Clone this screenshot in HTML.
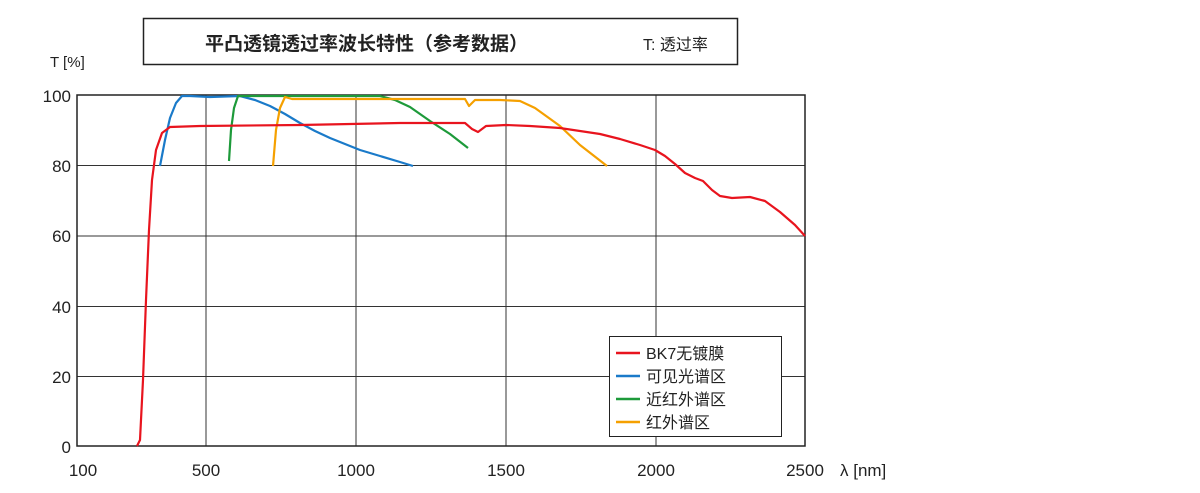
<!DOCTYPE html><html><head><meta charset="utf-8"><style>
body{margin:0;width:1200px;height:488px;background:#fff;overflow:hidden;font-family:"Liberation Sans","Noto Sans CJK SC",sans-serif}
</style></head><body>
<svg width="1200" height="488" xmlns="http://www.w3.org/2000/svg" font-family="Liberation Sans, Noto Sans CJK SC, sans-serif">
<rect x="143.5" y="18.5" width="594" height="46" fill="#fff" stroke="#222" stroke-width="1.5"/>
<text x="205" y="50" font-size="19" font-weight="bold" fill="#222">平凸透镜透过率波长特性（参考数据）</text>
<text x="643" y="50" font-size="16" fill="#222">T: 透过率</text>
<text x="50" y="67" font-size="15" fill="#222">T [%]</text>
<g stroke="#333" stroke-width="1">
<line x1="77" y1="165.5" x2="805" y2="165.5"/><line x1="77" y1="236" x2="805" y2="236"/><line x1="77" y1="306.5" x2="805" y2="306.5"/><line x1="77" y1="376.5" x2="805" y2="376.5"/>
<line x1="206" y1="95" x2="206" y2="446"/><line x1="356" y1="95" x2="356" y2="446"/><line x1="506" y1="95" x2="506" y2="446"/><line x1="656" y1="95" x2="656" y2="446"/>
</g>
<rect x="77" y="95" width="728" height="351" fill="none" stroke="#222" stroke-width="1.5"/>
<g font-size="17" fill="#222" text-anchor="end">
<text x="71" y="102">100</text><text x="71" y="172">80</text><text x="71" y="242">60</text><text x="71" y="313">40</text><text x="71" y="383">20</text><text x="71" y="453">0</text>
</g>
<g font-size="17" fill="#222" text-anchor="middle">
<text x="83" y="476">100</text><text x="206" y="476">500</text><text x="356" y="476">1000</text><text x="506" y="476">1500</text><text x="656" y="476">2000</text><text x="805" y="476">2500</text>
</g>
<text x="840" y="476" font-size="17" fill="#222">λ [nm]</text>
<g fill="none" stroke-width="2.2" stroke-linejoin="round">
<polyline stroke="#1a7ac9" points="160,166 165,140 170,118 176,103 182,96 190,96 210,97 240,96 255,100 270,106 285,114 300,123 315,131 330,138 345,144 360,150 380,156 400,162 413,166"/>
<polyline stroke="#1d9a3a" points="229,161 231,130 234,108 238,96 260,96 300,96 380,96 395,100 410,107 430,121 450,134 468,148"/>
<polyline stroke="#f5a000" points="273,166 276,130 280,108 285,97 292,99 300,99 340,99 420,99 465,99 469,106 475,100 500,100 520,101 535,108 560,126 580,145 607,166"/>
<polyline stroke="#e8141e" points="137,446 140,440 143,380 146,300 149,230 152,180 156,150 162,133 170,127 200,126 300,125 400,123 465,123 472,129 478,132 486,126 506,125 530,126 560,128 600,134 620,139 640,145 655,150 665,156 675,164 685,173 695,178 703,181 712,190 720,196 732,198 750,197 765,201 780,212 795,225 805,236"/>
</g>
<rect x="609.5" y="336.5" width="172" height="100" fill="#fff" stroke="#222" stroke-width="1"/>
<g stroke-width="2.5"><line x1="616" y1="353" x2="640" y2="353" stroke="#e8141e"/><line x1="616" y1="376" x2="640" y2="376" stroke="#1a7ac9"/><line x1="616" y1="399" x2="640" y2="399" stroke="#1d9a3a"/><line x1="616" y1="422" x2="640" y2="422" stroke="#f5a000"/></g>
<g font-size="16" fill="#222"><text x="646" y="359">BK7无镀膜</text><text x="646" y="382">可见光谱区</text><text x="646" y="405">近红外谱区</text><text x="646" y="428">红外谱区</text></g>
</svg></body></html>
